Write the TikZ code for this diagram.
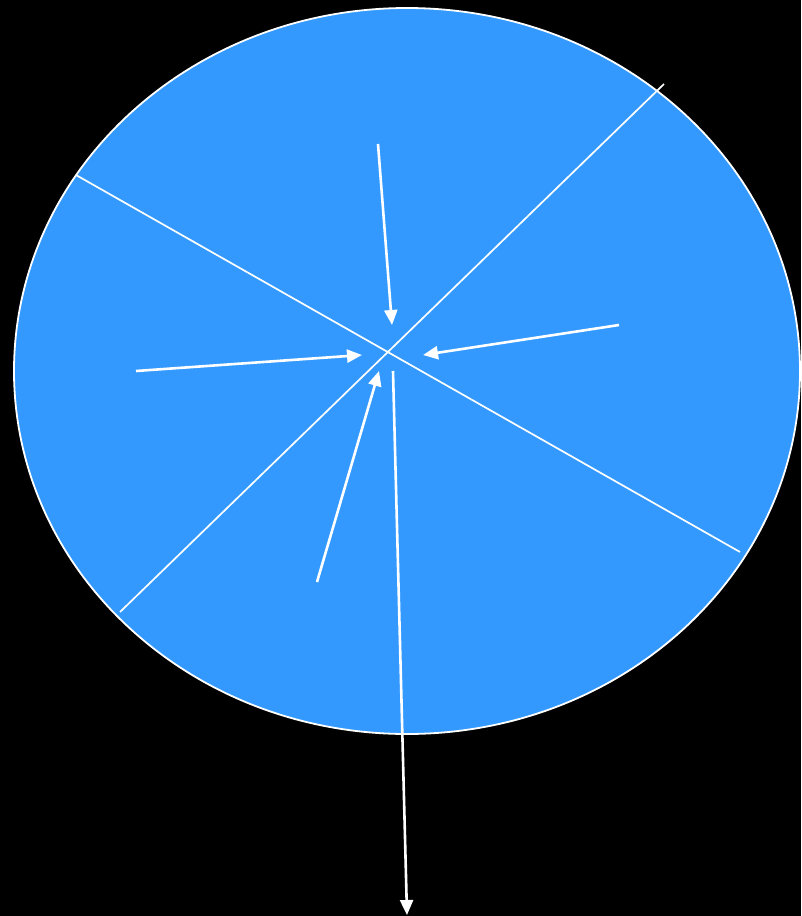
\documentclass[tikz,border=0pt]{standalone}
\usetikzlibrary{arrows.meta}
\definecolor{disc}{HTML}{3399FF}
\tikzset{
  divider/.style={draw=white, line width=1.7pt},
  force/.style={draw=white, line width=2.6pt, -{Triangle[length=15pt,width=13pt]}}
}
\begin{document}
\begin{tikzpicture}[x=1pt,y=-1pt]
\fill[black] (0,0) rectangle (801,916);
\useasboundingbox (0,0) rectangle (801,916);
\draw[fill=disc, draw=white, line width=1.8pt] (407,371) ellipse [x radius=393, y radius=363];
\coordinate (l1a) at (76,175);
\coordinate (l1b) at (740,552);
\coordinate (l2a) at (120,612);
\coordinate (l2b) at (664,84);
\path[divider] (l1a) -- (l1b);
\path[divider] (l2a) -- (l2b);
\coordinate (a1s) at (378,144); \coordinate (a1e) at (392,325);
\coordinate (a2s) at (619,325); \coordinate (a2e) at (423,355);
\coordinate (a3s) at (136,371); \coordinate (a3e) at (362,355);
\coordinate (a4s) at (317,582); \coordinate (a4e) at (379,371);
\coordinate (a5s) at (393,371); \coordinate (a5e) at (407,915);
\path[force] (a1s) -- (a1e);
\path[force] (a2s) -- (a2e);
\path[force] (a3s) -- (a3e);
\path[force] (a4s) -- (a4e);
\path[force] (a5s) -- (a5e);
\end{tikzpicture}
\end{document}
